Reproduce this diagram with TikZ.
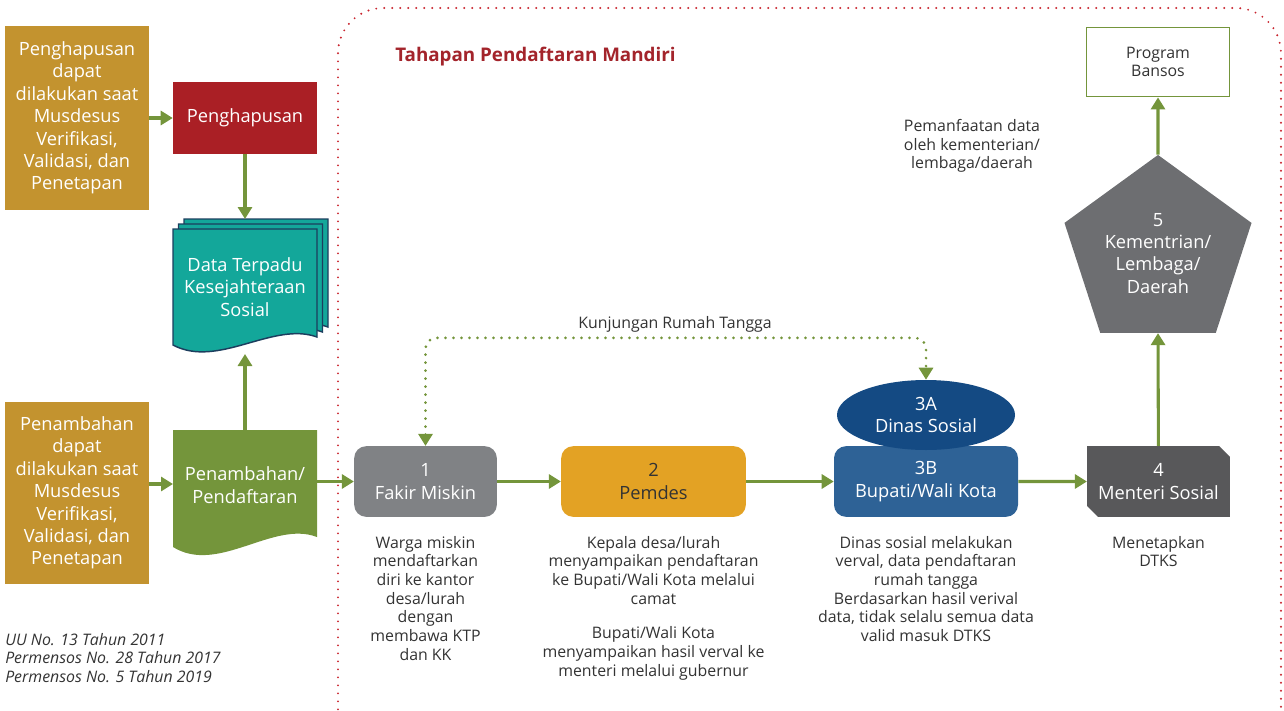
\documentclass[tikz,border=0pt]{standalone}
\usepackage{fontspec}
\setmainfont{Open Sans}
\usetikzlibrary{arrows.meta,shapes.geometric,shapes.misc}
\definecolor{emas}{HTML}{C3932F}
\definecolor{merah}{HTML}{AA1F25}
\definecolor{hijau}{HTML}{74953B}
\definecolor{tosca}{HTML}{13A79A}
\definecolor{navy}{HTML}{1C3E5E}
\definecolor{abu}{HTML}{808285}
\definecolor{oranye}{HTML}{E3A224}
\definecolor{biru}{HTML}{2E6296}
\definecolor{birutua}{HTML}{144A83}
\definecolor{abutua}{HTML}{58585A}
\definecolor{abulima}{HTML}{6D6E71}
\definecolor{titikmerah}{HTML}{C9252F}
\definecolor{judulmerah}{HTML}{A3242B}
\definecolor{teks}{HTML}{333333}
\newcommand\besar{\fontsize{13.7}{16.8}\selectfont}
\newcommand\kecil{\fontsize{11.9}{14}\selectfont}
\begin{document}
\begin{tikzpicture}[x=0.75pt,y=-0.75pt,>={Triangle[length=9pt,width=10.5pt]},
    panah/.style={->,hijau,line width=2.3pt},
    kotak/.style={text=white,font=\besar,align=center,inner sep=0pt},
    langkah/.style={kotak,rounded corners=9pt,minimum width=107pt,minimum height=53pt},
    ket/.style={text=teks,font=\kecil,align=center,anchor=north,inner sep=0pt}]
    \useasboundingbox (0,0) rectangle (1284,710);
    % batas tahapan mandiri
    \begin{scope}
        \clip (0,0) rectangle (1284,710);
        \draw[titikmerah,line width=1.6pt,line cap=round,dash pattern=on 0pt off 6pt,rounded corners=34pt](338,8) rectangle (1281,760);
    \end{scope}
    \node[anchor=west,inner sep=0pt,text=judulmerah,font=\fontsize{14.1}{16}\selectfont\bfseries](judul) at (395,57){Tahapan Pendaftaran Mandiri};
    % kiri
    \node[kotak,fill=emas,minimum width=108pt,minimum height=138pt](kiri1) at (77,118){Penghapusan\\dapat\\dilakukan saat\\Musdesus\\Verifikasi,\\Validasi, dan\\Penetapan};
    \node[kotak,fill=emas,minimum width=108pt,minimum height=136pt](kiri2) at (77,493){Penambahan\\dapat\\dilakukan saat\\Musdesus\\Verifikasi,\\Validasi, dan\\Penetapan};
    \node[kotak,fill=merah,minimum width=108pt,minimum height=54pt](hapus) at (245,118){Penghapusan};
    \foreach \d in {2,1,0}
        \draw[fill=tosca,draw=navy,line width=1.1pt,shift={(5.5*\d,-5*\d)}](173,229)--(317,229)--(317,337) .. controls (273,321) and (218,369) .. (173,345)--cycle;
    \node[kotak](dtks) at (245,287){Data Terpadu\\Kesejahteraan\\Sosial};
    \fill[hijau](173,430)--(317,430)--(317,537) .. controls (273,520) and (218,575) .. (173,547)--cycle;
    \node[kotak](tambah) at (245,485){Penambahan/\\Pendaftaran};
    \coordinate (dtks-atas) at (245,219);
    \coordinate (dtks-bawah) at (245,354);
    \coordinate (tambah-atas) at (245,430);
    \coordinate (tambah-kiri) at (173,484);
    \coordinate (tambah-kanan) at (317,481.5);
    % langkah 1-5
    \node[langkah,fill=abu](fakir) at (425.5,481.5){1\\Fakir Miskin};
    \node[langkah,fill=oranye,text=teks,minimum width=138.5pt](pemdes) at (653.5,481.5){2\\Pemdes};
    \node[langkah,fill=biru,minimum width=138pt](bupati) at (926,481.5){3B\\Bupati/Wali Kota};
    \node[kotak,ellipse,fill=birutua,minimum width=133.5pt,minimum height=52.5pt](dinas) at (926,415){3A\\Dinas Sosial};
    \node[kotak,chamfered rectangle,chamfered rectangle corners={north east,south west},chamfered rectangle xsep=4pt,chamfered rectangle ysep=4pt,fill=abutua,minimum width=107pt,minimum height=53pt](menteri) at (1158.5,481.5){4\\Menteri Sosial};
    \node[kotak,regular polygon,regular polygon sides=5,fill=abulima,minimum size=147.5pt](kl) at (1158,253.3){5\\Kementrian/\\Lembaga/\\Daerah};
    \node[kotak,draw=hijau,line width=1.1pt,fill=white,text=teks,font=\kecil,minimum width=107pt,minimum height=52pt](bansos) at (1158,62){Program\\Bansos};
    \draw[panah](kiri1)--(hapus);
    \draw[panah](hapus)--(dtks-atas);
    \draw[panah](kiri2.east |- tambah-kiri)--(tambah-kiri);
    \draw[panah](tambah-atas)--(dtks-bawah);
    \draw[panah](tambah-kanan)--(fakir);
    \draw[panah](fakir)--(pemdes);
    \draw[panah](pemdes)--(bupati);
    \draw[panah](bupati)--(menteri);
    \draw[panah](menteri)--(kl.south);
    \draw[panah](kl.north)--(bansos);
    \node[text=teks,font=\kecil](kunjungan) at (675,324){Kunjungan Rumah Tangga};
    \draw[<->,hijau,line width=2.2pt,line cap=round,dash pattern=on 0pt off 6pt,rounded corners=8pt](fakir.north)--++(0,-108)-|(dinas.north);
    % keterangan
    \node[ket](manfaat) at (972,119){Pemanfaatan data\\oleh kementerian/\\lembaga/daerah};
    \node[ket](ket1) at (425.5,536){Warga miskin\\mendaftarkan\\diri ke kantor\\desa/lurah\\dengan\\membawa KTP\\dan KK};
    \node[ket](ket2) at (653.5,536){Kepala desa/lurah\\menyampaikan pendaftaran\\ke Bupati/Wali Kota melalui\\camat\\[12pt]Bupati/Wali Kota\\menyampaikan hasil verval ke\\menteri melalui gubernur};
    \node[ket](ket3) at (926,536){Dinas sosial melakukan\\verval, data pendaftaran\\rumah tangga\\Berdasarkan hasil verival\\data, tidak selalu semua data\\valid masuk DTKS};
    \node[ket](ket4) at (1158.5,536){Menetapkan\\DTKS};
    \node[ket,anchor=north west,align=left,font=\kecil\itshape](dasar) at (5,633){UU No. 13 Tahun 2011\\Permensos No. 28 Tahun 2017\\Permensos No. 5 Tahun 2019};
\end{tikzpicture}
\end{document}
